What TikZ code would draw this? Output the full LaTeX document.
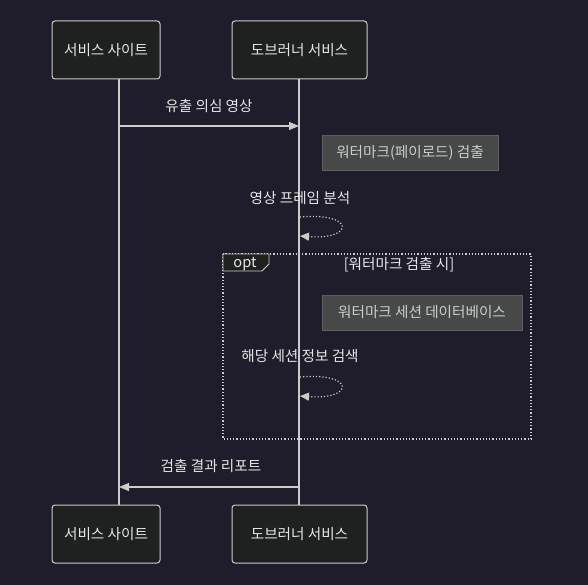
\documentclass[tikz,border=0pt]{standalone}
\usepackage{fontspec}
\setmainfont{Noto Sans CJK KR}
\usetikzlibrary{arrows.meta}
\definecolor{bgcol}{RGB}{31,29,43}
\definecolor{actorfill}{RGB}{31,32,32}
\definecolor{actorline}{RGB}{204,204,204}
\definecolor{notefill}{RGB}{71,73,72}
\definecolor{noteline}{RGB}{95,97,96}
\definecolor{txtcol}{RGB}{230,230,230}
\definecolor{notetxt}{RGB}{204,204,204}

\begin{document}
\begin{tikzpicture}[x=1pt,y=-1pt,
    font=\fontsize{14.6}{17}\selectfont,
    actor/.style={draw=actorline,fill=actorfill,rounded corners=3pt,line width=1pt,
      minimum width=#1,minimum height=58pt,inner sep=0pt,text=txtcol},
    note/.style={draw=noteline,fill=notefill,minimum height=35pt,inner sep=0pt,text=notetxt},
    msg/.style={draw=actorline,line width=1.2pt,-{Triangle[length=10pt,width=8pt]}},
    selfmsg/.style={draw=actorline,line width=1.2pt,dotted,-{Triangle[length=9pt,width=8pt]}},
    life/.style={draw=actorline,line width=1.3pt},
    lbl/.style={text=txtcol,inner sep=1pt}]
  \useasboundingbox[fill=bgcol] (0,0) rectangle (588,585);
  % actors
  \node[actor=108pt] (siteT) at (106,50) {서비스 사이트};
  \node[actor=135pt] (dobT) at (299.5,50) {도브러너 서비스};
  \node[actor=108pt] (siteB) at (106,534) {서비스 사이트};
  \node[actor=135pt] (dobB) at (299.5,534) {도브러너 서비스};
  \coordinate (siteTop) at (119,79); \coordinate (siteBot) at (119,505);
  \coordinate (dobTop) at (299,79); \coordinate (dobBot) at (299,505);
  \draw[life] (siteTop)--(siteBot);
  \draw[life] (dobTop)--(dobBot);
  % opt block
  \draw[actorline,line width=1.2pt,dotted] (223,254) rectangle (531,439);
  \draw[actorline,fill=actorfill,line width=0.8pt] (223,254)--(269,254)--(269,264)--(262,271)--(223,271)--cycle;
  \node[lbl] (optTag) at (245,264) {opt};
  \node[lbl] (optCond) at (399,265) {[워터마크 검출 시]};
  % messages
  \coordinate (m1a) at (119,126); \coordinate (m1b) at (299,126);
  \draw[msg] (m1a)--(m1b);
  \node[lbl] (m1) at (209,106) {유출 의심 영상};
  \node[note,minimum width=176pt] (n1) at (410,153) {워터마크(페이로드) 검출};
  \node[lbl] (s1) at (300,198) {영상 프레임 분석};
  \coordinate (s1a) at (300,217); \coordinate (s1b) at (300,236);
  \draw[selfmsg] (s1a) .. controls (355,212) and (355,240) .. (s1b);
  \node[note,minimum width=200pt] (n2) at (422,312.5) {워터마크 세션 데이터베이스};
  \node[lbl] (s2) at (300,356) {해당 세션 정보 검색};
  \coordinate (s2a) at (300,377); \coordinate (s2b) at (300,396);
  \draw[selfmsg] (s2a) .. controls (355,372) and (355,400) .. (s2b);
  \coordinate (m3a) at (299,487); \coordinate (m3b) at (119,487);
  \draw[msg] (m3a)--(m3b);
  \node[lbl] (m3) at (211,466) {검출 결과 리포트};
\end{tikzpicture}
\end{document}
